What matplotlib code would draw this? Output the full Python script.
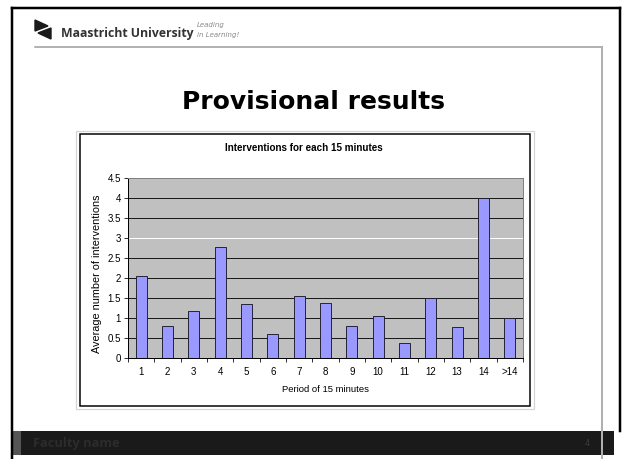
import matplotlib
matplotlib.use('Agg')
import matplotlib.pyplot as plt
from matplotlib.patches import Rectangle, Polygon

# data
periods = ['1', '2', '3', '4', '5', '6', '7', '8', '9', '10', '11', '12', '13', '14', '>14']
avg_interventions = [2.05, 0.80, 1.16, 2.77, 1.35, 0.60, 1.53, 1.37, 0.80, 1.05, 0.37, 1.50, 0.77, 4.00, 1.00]
y_ticks = [0, 0.5, 1, 1.5, 2, 2.5, 3, 3.5, 4, 4.5]
y_tick_labels = ['0', '0.5', '1', '1.5', '2', '2.5', '3', '3.5', '4', '4.5']

W, H = 622, 459
PX = 72 / 100  # pixel -> points

fig = plt.figure(figsize=(W / 100, H / 100), dpi=100)
fig.patch.set_facecolor('white')

# full-figure axes in pixel coords for the slide decoration
bg = fig.add_axes([0, 0, 1, 1])
bg.set_xlim(0, W)
bg.set_ylim(H, 0)
bg.axis('off')

# slide border
bg.plot([12, 12], [8, H], color='black', lw=2.5 * PX)
bg.plot([12, 620], [8, 8], color='black', lw=2.5 * PX)
bg.plot([620, 620], [8, 431], color='black', lw=2.5 * PX)

# header
bg.plot([35, 602], [47, 47], color='#999999', lw=1.5 * PX)
bg.add_patch(Polygon([(35, 20), (35, 31), (48, 26)], closed=True, color='#1a1a1a'))
bg.add_patch(Polygon([(51, 28), (51, 39), (38, 33)], closed=True, color='#1a1a1a'))
bg.text(61, 33, 'Maastricht University', fontsize=8.8, fontweight='bold',
        family='Open Sans', color='#333333', va='center', ha='left')
bg.text(197, 25, 'Leading', fontsize=5, style='italic', color='#888888', va='center')
bg.text(197, 35, 'in Learning!', fontsize=5, style='italic', color='#888888', va='center')

# slide title
bg.text(314, 102, 'Provisional results', fontsize=18, fontweight='bold',
        family='DejaVu Sans', color='black', ha='center', va='center')

# chart frame
bg.add_patch(Rectangle((76, 131), 458, 278, fill=False, ec='#d4d4d4', lw=1.2 * PX))
bg.add_patch(Rectangle((80, 134), 450, 272, fill=False, ec='black', lw=1.5 * PX))
bg.text(304, 148, 'Interventions for each 15 minutes', fontsize=7.1, fontweight='bold',
        family='Liberation Sans', ha='center', va='center')
bg.text(325, 389, 'Period of 15 minutes', fontsize=6.8,
        family='Liberation Sans', ha='center', va='center')
bg.text(97, 274, 'Average number of interventions', fontsize=7.8, rotation=90,
        family='Liberation Sans', ha='center', va='center')

# footer
bg.add_patch(Rectangle((12, 431), 602, 24, color='#1a1a1a', lw=0))
bg.add_patch(Rectangle((12, 431), 9, 24, color='#555555', lw=0))
bg.text(33, 443, 'Faculty name', fontsize=9.3, fontweight='bold', family='Open Sans',
        color='#2c2c2c', va='center', ha='left')
bg.text(587, 443, '4', fontsize=6, color='#3a3a3a', va='center', ha='center')
bg.plot([602, 602], [47, H], color='#b0b0b0', lw=2 * PX, zorder=5)

# the chart itself
left, right, top, bottom = 128, 523, 178, 357.5
ax = fig.add_axes([left / W, 1 - bottom / H, (right - left) / W, (bottom - top) / H])
ax.set_facecolor('#c0c0c0')
x = list(range(len(periods)))
ax.bar(x, avg_interventions, width=0.42, color='#9999ff', edgecolor='#1a1a2a',
       linewidth=0.9 * PX, zorder=3)
ax.set_xlim(-0.5, len(periods) - 0.5)
ax.set_ylim(0, 4.5)

for v in y_ticks[1:-1]:
    ax.axhline(v, color='white' if v == 3 else '#1a1a1a', lw=1 * PX, zorder=1)

ax.set_yticks(y_ticks)
ax.set_yticklabels(y_tick_labels, family='Liberation Sans', fontsize=7)
ax.set_xticks(x)
ax.set_xticklabels(periods, family='Liberation Sans', fontsize=7)
ax.tick_params(axis='x', which='major', length=0, pad=7)
ax.set_xticks([i - 0.5 for i in range(len(periods) + 1)], minor=True)
ax.tick_params(axis='x', which='minor', length=3, width=0.8 * PX, direction='out')
ax.tick_params(axis='y', length=3, width=0.8 * PX, direction='out', pad=2)

for s in ['left', 'bottom']:
    ax.spines[s].set_color('black')
    ax.spines[s].set_linewidth(1 * PX)
for s in ['top', 'right']:
    ax.spines[s].set_color('#808080')
    ax.spines[s].set_linewidth(1 * PX)

fig.savefig('out.png', dpi=100)
